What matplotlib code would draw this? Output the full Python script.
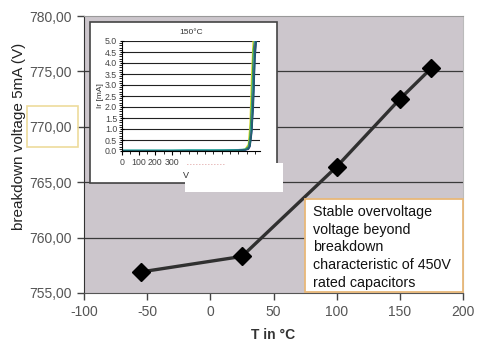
import matplotlib
matplotlib.use("Agg")
import matplotlib.pyplot as plt
from matplotlib.patches import Rectangle

plt.rcParams['font.family'] = ['Liberation Sans', 'DejaVu Sans']

# main data
temps = [-55, 25, 100, 150, 175]
volts = [756.9, 758.3, 766.4, 772.5, 775.3]
x_ticks = [-100, -50, 0, 50, 100, 150, 200]
y_ticks = [755, 760, 765, 770, 775, 780]
y_tick_labels = ["755,00", "760,00", "765,00", "770,00", "775,00", "780,00"]

# inset data (I-V curves at 150 degC)
inset_v = [0, 100, 200, 300, 400, 500, 600, 700, 740, 760, 770, 780, 790, 800, 810]
inset_curves = {
    '#E0D830': [0.0, 0.0, 0.0, 0.0, 0.0, 0.0, 0.01, 0.03, 0.08, 0.3, 1.2, 3.5, 5.2, 5.2, 5.2],
    '#2E9A4A': [0.02, 0.02, 0.02, 0.02, 0.03, 0.03, 0.03, 0.04, 0.07, 0.2, 0.7, 2.2, 4.6, 5.2, 5.2],
    '#2AA6A6': [0.04, 0.04, 0.04, 0.04, 0.05, 0.05, 0.05, 0.06, 0.08, 0.12, 0.4, 1.4, 3.4, 5.2, 5.2],
    '#7A2E7E': [0.0, 0.0, 0.0, 0.0, 0.0, 0.0, 0.0, 0.02, 0.05, 0.1, 0.3, 1.0, 2.6, 4.8, 5.2],
    '#27348B': [0.0, 0.0, 0.0, 0.0, 0.0, 0.01, 0.01, 0.02, 0.04, 0.08, 0.2, 0.8, 2.0, 4.2, 5.2],
    '#1C6A6A': [0.01, 0.01, 0.01, 0.01, 0.01, 0.01, 0.02, 0.03, 0.05, 0.1, 0.25, 0.9, 2.3, 4.5, 5.2],
}
inset_yticks = [0.0, 0.5, 1.0, 1.5, 2.0, 2.5, 3.0, 3.5, 4.0, 4.5, 5.0]
inset_xticks = [0, 100, 200, 300]

W, H = 479, 344
fig = plt.figure(figsize=(W / 100, H / 100), dpi=100)
fig.patch.set_facecolor('white')

def fx(px):
    return px / W

def fy(py):
    return 1 - py / H

ax = fig.add_axes([fx(84), fy(293), fx(463) - fx(84), fy(16) - fy(293)])
ax.set_facecolor('#CCC6CC')
ax.set_xlim(-100, 200)
ax.set_ylim(755, 780)
ax.set_xticks(x_ticks)
ax.set_xticklabels([str(t) for t in x_ticks])
ax.set_yticks(y_ticks)
ax.set_yticklabels(y_tick_labels)
for yv in y_ticks[1:-1]:
    ax.axhline(yv, color='#3a3a3a', lw=0.9, zorder=1)
ax.tick_params(axis='both', direction='out', length=5, width=1, colors='#444444',
               labelsize=10, labelcolor='#555555', pad=4)
ax.spines['left'].set_color('#333333')
ax.spines['bottom'].set_color('#555555')
ax.spines['top'].set_color('#999999')
ax.spines['right'].set_color('#bbbbbb')
ax.set_ylabel('breakdown voltage 5mA (V)', fontsize=11, color='#222222')
ax.yaxis.set_label_coords((26 - 84) / 379, (293 - 136) / 277)
ax.set_xlabel('T in °C', fontsize=10, fontweight='bold', color='#333333', labelpad=6)

ax.plot(temps, volts, color='#303030', lw=2.4, marker='D', markersize=9.5,
        markerfacecolor='black', markeredgecolor='black', zorder=3)

# yellow box around 770,00 label
fig.add_artist(Rectangle((fx(27), fy(147)), fx(78) - fx(27), fy(106) - fy(147),
                         transform=fig.transFigure, fill=False,
                         edgecolor='#EEDC9C', lw=1.2))

# text box
fig.add_artist(Rectangle((fx(305), fy(292)), fx(463) - fx(305), fy(199) - fy(292),
                         transform=fig.transFigure, facecolor='white',
                         edgecolor='#E8B878', lw=1.3, zorder=5))
fig.text(fx(313), fy(205), 'Stable overvoltage\nvoltage beyond\nbreakdown\ncharacteristic of 450V\nrated capacitors',
         fontsize=10.3, color='#111111', va='top', ha='left', linespacing=1.34, zorder=6)

# inset frame
fig.add_artist(Rectangle((fx(90), fy(183)), fx(277) - fx(90), fy(22) - fy(183),
                         transform=fig.transFigure, facecolor='white',
                         edgecolor='#444444', lw=1.2, zorder=4))

axi = fig.add_axes([fx(122), fy(151), fx(260) - fx(122), fy(41) - fy(151)], zorder=6)
axi.set_facecolor('white')
for c, vals in inset_curves.items():
    axi.plot(inset_v, vals, color=c, lw=1.0)
axi.set_xlim(0, 830)
axi.set_ylim(0, 5)
axi.set_yticks(inset_yticks)
axi.set_yticklabels([f"{t:.1f}" for t in inset_yticks])
axi.set_yticks([i * 0.1 for i in range(51)], minor=True)
axi.set_xticks(inset_xticks)
axi.set_xticks(list(range(0, 850, 50)), minor=True)
for yv in inset_yticks[1:]:
    axi.axhline(yv, color='#222222', lw=0.8, zorder=0)
axi.tick_params(axis='both', which='major', length=3, labelsize=6.3, labelcolor='#444444', pad=2)
axi.tick_params(axis='both', which='minor', length=2)
axi.tick_params(axis='y', direction='inout')
for s in ['top', 'right']:
    axi.spines[s].set_visible(False)
axi.set_ylabel('Ir [mA]', fontsize=6, color='#333333', labelpad=1)
axi.set_title('150°C', fontsize=6, color='#333333', pad=5)

# white patch covering part of inset axis labels
fig.add_artist(Rectangle((fx(185), fy(192)), fx(283) - fx(185), fy(163) - fy(192),
                         transform=fig.transFigure, facecolor='white',
                         edgecolor='none', zorder=7))
fig.text(fx(187), fy(165), '- - - - - - - - - - - - -', fontsize=3.5, color='#C04848',
         zorder=8, va='center')
fig.text(fx(183), fy(176), 'V', fontsize=6.5, color='#333333', zorder=8, va='center')

fig.savefig('out.png', dpi=100)
